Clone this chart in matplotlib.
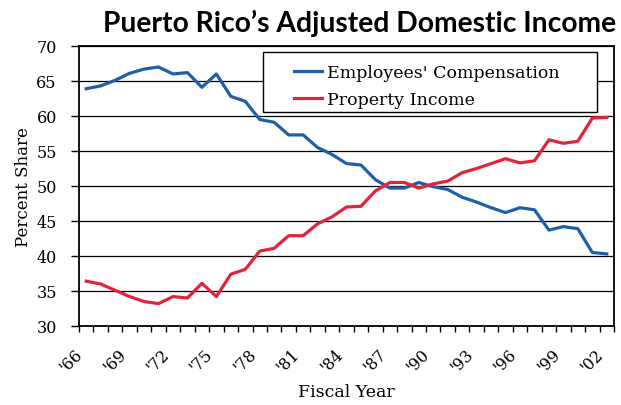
import numpy as np
import matplotlib
matplotlib.use('Agg')
import matplotlib.pyplot as plt
from matplotlib.patches import Rectangle

# Daten
years = list(range(1966, 2003))
employees = [63.9, 64.3, 65.1, 66.1, 66.7, 67.0, 66.0, 66.2, 64.1, 66.0,
             62.8, 62.1, 59.5, 59.1, 57.3, 57.3, 55.5, 54.5, 53.2, 53.0,
             50.9, 49.7, 49.7, 50.5, 49.9, 49.5, 48.4, 47.7, 46.9, 46.2,
             46.9, 46.6, 43.7, 44.2, 43.9, 40.5, 40.3]
property_inc = [36.4, 36.0, 35.1, 34.2, 33.5, 33.2, 34.2, 34.0, 36.1, 34.2,
                37.4, 38.1, 40.7, 41.1, 42.9, 42.9, 44.6, 45.6, 47.0, 47.1,
                49.3, 50.5, 50.5, 49.7, 50.3, 50.7, 51.9, 52.5, 53.2, 53.9,
                53.3, 53.6, 56.6, 56.1, 56.4, 59.7, 59.8]
label_years = list(range(1966, 2003, 3))
tick_labels = ["'%02d" % (y % 100) for y in label_years]
series_names = ["Employees' Compensation", "Property Income"]

serif = 'DejaVu Serif'

fig = plt.figure(figsize=(6.21, 4.06), dpi=100)
ax = fig.add_axes([79/621, 1-327/406, (614-79)/621, (327-47)/406])

ax.plot(years, employees, color='#1f5ea8', lw=2.3, label=series_names[0], zorder=3)
ax.plot(years, property_inc, color='#e1243b', lw=2.3, label=series_names[1], zorder=3)

ax.set_xlim(1965.5, 2002.5)
ax.set_ylim(30, 70)
ax.set_yticks(np.arange(30, 71, 5))
ax.yaxis.grid(True, color='black', lw=0.9)
ax.set_axisbelow(True)

ax.set_xticks(label_years)
ax.set_xticklabels(tick_labels, rotation=45, ha='right', va='top',
                   fontsize=11.5, family=serif)
ax.set_xticks(np.arange(1965.5, 2003, 1), minor=True)
ax.tick_params(axis='x', which='major', length=0, pad=14)
ax.tick_params(axis='x', which='minor', length=4, width=1, direction='out')
ax.tick_params(axis='y', length=6, width=1, pad=10, labelsize=11.5)
for t in ax.get_yticklabels():
    t.set_family(serif)

for s in ax.spines.values():
    s.set_linewidth(1.3)
    s.set_color('black')

ax.set_ylabel('Percent Share', family=serif, fontsize=12, labelpad=3)
ax.set_xlabel('Fiscal Year', family=serif, fontsize=12.5, labelpad=6)

fig.text(360/621, 1-32/406, "Puerto Rico\u2019s Adjusted Domestic Income",
         ha='center', va='baseline', fontsize=20.3, fontweight='bold', family='Lato')

# Legendenkasten
box = Rectangle((263/621, 1-113/406), (597-263)/621, 60/406, transform=fig.transFigure,
                facecolor='white', edgecolor='black', lw=1.0, zorder=5)
fig.patches.append(box)
leg = fig.legend(loc='upper left', bbox_to_anchor=(282/621, 1-53/406), frameon=False,
                 prop={'family': serif, 'size': 12.5}, handlelength=1.6,
                 handletextpad=0.3, labelspacing=0.55, borderpad=0.2)
leg.set_zorder(6)

fig.savefig('out.png', dpi=100)
